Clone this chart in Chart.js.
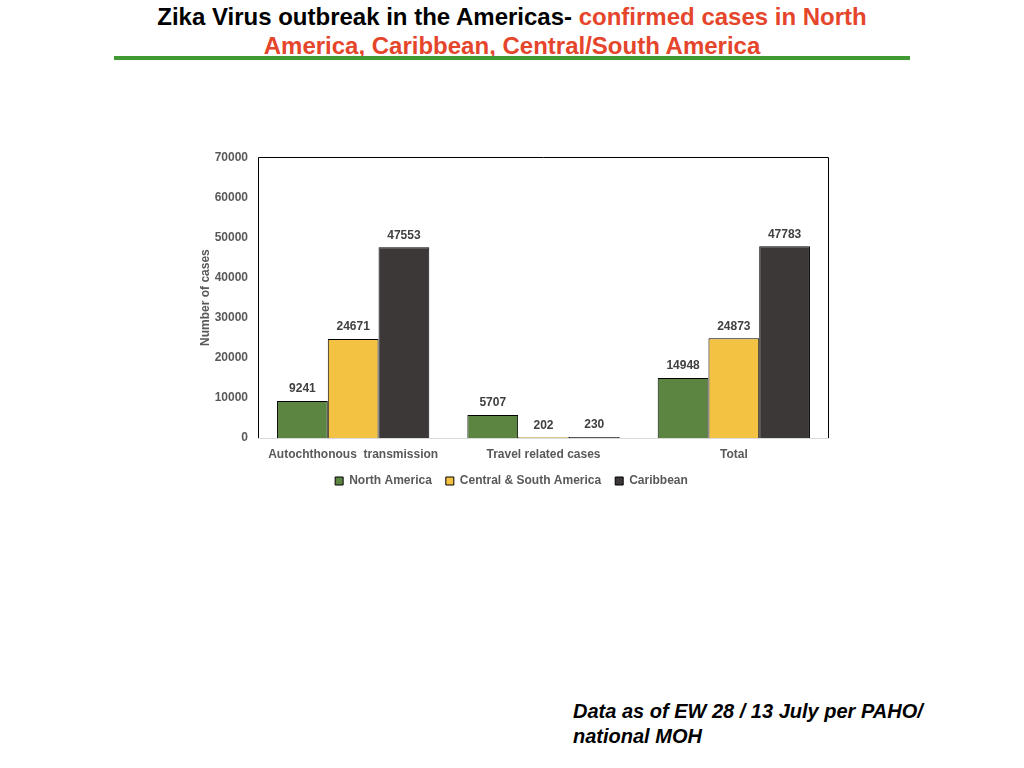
<!DOCTYPE html>
<html>
<head>
<meta charset="utf-8">
<script src="https://cdn.jsdelivr.net/npm/chart.js@4"></script>
<style>
  html, body { margin: 0; padding: 0; background: #fff; width: 1024px; height: 768px; overflow: hidden; }
  #title { position: absolute; left: 0; top: 2px; width: 1024px; text-align: center;
    font-family: "Liberation Sans Narrow", "Liberation Sans", Arial, sans-serif; font-weight: bold;
    font-size: 24px; line-height: 29px; color: #000; }
  #title .red { color: #e5452b; }
  #rule { position: absolute; left: 114px; top: 56px; width: 796px; height: 4px; background: #3f9a33; }
  #foot { position: absolute; left: 573px; top: 699px; font-family: "Liberation Sans", Arial, sans-serif;
    font-weight: bold; font-style: italic; font-size: 20px; line-height: 25px; color: #000; }
  #wrap { position: absolute; left: 190px; top: 140px; width: 660px; height: 360px; }
</style>
</head>
<body>
<div id="title">Zika Virus outbreak in the Americas- <span class="red">confirmed cases in North<br>America, Caribbean, Central/South America</span></div>
<div id="rule"></div>
<div id="wrap"><canvas id="c"></canvas></div>
<div id="foot">Data as of EW 28 / 13 July per PAHO/<br>national MOH</div>
<script>
const categories = ["Autochthonous  transmission", "Travel related cases", "Total"];
const seriesNames = ["North America", "Central & South America", "Caribbean"];
const northAmerica = [9241, 5707, 14948];
const centralSouthAmerica = [24671, 202, 24873];
const caribbean = [47553, 230, 47783];
const yTicks = [0, 10000, 20000, 30000, 40000, 50000, 60000, 70000];

const colors = ["#5b8540", "#f3c242", "#3c3837"];
const textGray = "#595959";
const font = { family: "'Liberation Sans', Arial, sans-serif", size: 12, weight: "bold" };

const valueLabels = {
  id: "valueLabels",
  afterDatasetsDraw(chart) {
    const ctx = chart.ctx;
    ctx.save();
    ctx.font = "bold 12px 'Liberation Sans', Arial, sans-serif";
    ctx.fillStyle = "#404040";
    ctx.textAlign = "center";
    ctx.textBaseline = "middle";
    chart.data.datasets.forEach((ds, i) => {
      chart.getDatasetMeta(i).data.forEach((bar, j) => {
        ctx.fillText(String(ds.data[j]), bar.x, bar.y - 12);
      });
    });
    ctx.restore();
  }
};

const plotFrame = {
  id: "plotFrame",
  afterDraw(chart) {
    const a = chart.chartArea, ctx = chart.ctx;
    ctx.save();
    ctx.strokeStyle = "#000";
    ctx.lineWidth = 1;
    ctx.beginPath();
    ctx.moveTo(Math.round(a.left) + 0.5, Math.round(a.bottom));
    ctx.lineTo(Math.round(a.left) + 0.5, Math.round(a.top) + 0.5);
    ctx.lineTo(Math.round(a.right) - 0.5, Math.round(a.top) + 0.5);
    ctx.lineTo(Math.round(a.right) - 0.5, Math.round(a.bottom));
    ctx.stroke();
    ctx.strokeStyle = "#d9d9d9";
    ctx.beginPath();
    ctx.moveTo(Math.round(a.left), Math.round(a.bottom) + 0.5);
    ctx.lineTo(Math.round(a.right), Math.round(a.bottom) + 0.5);
    ctx.stroke();
    ctx.restore();
  }
};

new Chart(document.getElementById("c"), {
  type: "bar",
  data: {
    labels: categories,
    datasets: [
      { label: seriesNames[0], data: northAmerica, backgroundColor: colors[0] },
      { label: seriesNames[1], data: centralSouthAmerica, backgroundColor: colors[1] },
      { label: seriesNames[2], data: caribbean, backgroundColor: colors[2] }
    ].map(d => Object.assign(d, { borderColor: "#000", borderWidth: 1, categoryPercentage: 0.8, barPercentage: 1.0 }))
  },
  options: {
    responsive: true,
    maintainAspectRatio: false,
    animation: false,
    layout: { padding: { left: 4, top: 17, right: 21, bottom: 3 } },
    plugins: {
      tooltip: { enabled: false },
      legend: {
        position: "bottom",
        labels: { boxWidth: 8, boxHeight: 8, padding: 14, color: textGray, font: font },
      }
    },
    scales: {
      x: {
        grid: { display: false, drawTicks: false },
        border: { display: false },
        ticks: { color: textGray, font: font, padding: 9, maxRotation: 0 },
        afterFit(s) { s.height = 23; }
      },
      y: {
        min: 0, max: 70000,
        afterBuildTicks(s) { s.ticks = yTicks.map(v => ({ value: v })); },
        grid: { display: false, drawTicks: false },
        border: { display: false },
        ticks: { color: textGray, font: font, padding: 10, callback: v => String(v) },
        title: { display: true, text: "Number of cases", color: textGray, font: font, padding: { top: 4, bottom: 4 } },
        afterFit(s) { s.width = 64; }
      }
    }
  },
  plugins: [valueLabels, plotFrame]
});
</script>
</body>
</html>
